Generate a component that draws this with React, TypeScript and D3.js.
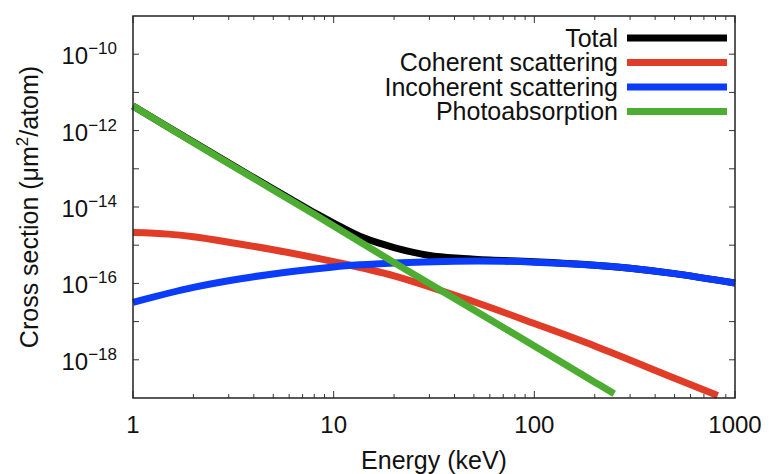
import React, { useEffect, useRef } from "react";
import * as d3 from "d3";

// energies (keV) and cross sections (um^2/atom)
const totalE = [1, 2, 5, 8, 10, 14, 20, 30, 44, 60, 100, 200, 300, 500, 1000];
const totalV = [4.4e-12, 5.0e-13, 2.95e-14, 7.1e-15, 3.8e-15, 1.58e-15, 8.7e-16, 5.4e-16, 4.5e-16, 4.1e-16, 3.7e-16, 3.0e-16, 2.5e-16, 1.8e-16, 1.02e-16];

const coherentE = [1, 1.5, 2, 3, 5, 10, 20, 50, 100, 200, 500, 820];
const coherentV = [2.14e-15, 1.95e-15, 1.66e-15, 1.2e-15, 7.6e-16, 3.7e-16, 1.58e-16, 3.3e-17, 8.9e-18, 2.3e-18, 3.3e-19, 1.17e-19];

const incoherentE = [1, 2, 4, 10, 20, 40, 70, 100, 200, 300, 500, 1000];
const incoherentV = [3.2e-17, 7.9e-17, 1.5e-16, 2.7e-16, 3.4e-16, 3.8e-16, 3.8e-16, 3.6e-16, 3.0e-16, 2.5e-16, 1.8e-16, 1.02e-16];

const photoE = [1, 2, 5, 10, 20, 50, 100, 200, 250];
const photoV = [4.4e-12, 4.9e-13, 2.8e-14, 3.2e-15, 3.5e-16, 2.0e-17, 2.3e-18, 2.6e-19, 1.3e-19];

const seriesNames = ["Total", "Coherent scattering", "Incoherent scattering", "Photoabsorption"];
const seriesColors = ["#000000", "#e03c28", "#0a3cfa", "#4cad32"];

const xTickValues = [1, 10, 100, 1000];
const yLabelExps = [-18, -16, -14, -12, -10];

const App: React.FC = () => {
  const ref = useRef<SVGSVGElement | null>(null);

  useEffect(() => {
    if (!ref.current) return;
    const width = 769;
    const height = 474;
    const left = 133, right = 735, top = 16, bottom = 398;
    const font = "'Liberation Sans', Arial, Helvetica, sans-serif";

    const svg = d3.select(ref.current);
    svg.selectAll("*").remove();
    svg.attr("width", width).attr("height", height);

    const x = d3.scaleLog().domain([1, 1000]).range([left, right]);
    const y = d3.scaleLog().domain([1e-19, 1e-9]).range([bottom, top]);

    const g = svg.append("g");

    // ticks (inside, mirrored)
    const tickColor = "#333";
    const xMinor: number[] = [];
    for (let dec = 1; dec < 1000; dec *= 10) {
      for (let k = 2; k <= 9; k++) xMinor.push(dec * k);
    }
    const drawX = (v: number, len: number) => {
      g.append("line").attr("x1", x(v)).attr("x2", x(v)).attr("y1", bottom).attr("y2", bottom - len)
        .attr("stroke", tickColor).attr("stroke-width", 1);
      g.append("line").attr("x1", x(v)).attr("x2", x(v)).attr("y1", top).attr("y2", top + len)
        .attr("stroke", tickColor).attr("stroke-width", 1);
    };
    xTickValues.forEach(v => drawX(v, 7));
    xMinor.forEach(v => drawX(v, 4));

    for (let e = -18; e <= -10; e++) {
      const yy = y(Math.pow(10, e));
      g.append("line").attr("x1", left).attr("x2", left + 6).attr("y1", yy).attr("y2", yy)
        .attr("stroke", tickColor).attr("stroke-width", 1);
      g.append("line").attr("x1", right).attr("x2", right - 6).attr("y1", yy).attr("y2", yy)
        .attr("stroke", tickColor).attr("stroke-width", 1);
    }

    // curves
    const makeLine = d3.line<[number, number]>()
      .x(d => x(d[0]))
      .y(d => y(d[1]))
      .curve(d3.curveCatmullRom.alpha(0.5));

    const series: [number[], number[]][] = [
      [totalE, totalV],
      [coherentE, coherentV],
      [incoherentE, incoherentV],
      [photoE, photoV],
    ];
    series.forEach(([es, vs], i) => {
      const pts = es.map((e, j) => [e, vs[j]] as [number, number]);
      g.append("path")
        .attr("d", makeLine(pts) || "")
        .attr("fill", "none")
        .attr("stroke", seriesColors[i])
        .attr("stroke-width", 7)
        .attr("stroke-linecap", "butt");
    });

    // frame
    g.append("rect").attr("x", left).attr("y", top).attr("width", right - left).attr("height", bottom - top)
      .attr("fill", "none").attr("stroke", "#222").attr("stroke-width", 1.5);

    // x tick labels
    xTickValues.forEach(v => {
      g.append("text").attr("x", x(v)).attr("y", 433)
        .attr("text-anchor", "middle").attr("font-family", font).attr("font-size", 24)
        .attr("fill", "#111").text(String(v));
    });

    // y tick labels
    yLabelExps.forEach(e => {
      const t = g.append("text").attr("x", 117).attr("y", y(Math.pow(10, e)) + 10)
        .attr("text-anchor", "end").attr("font-family", font).attr("font-size", 24).attr("fill", "#111");
      t.append("tspan").text("10");
      t.append("tspan").attr("dy", -10).attr("font-size", 17).text("\u2212" + Math.abs(e));
    });

    // axis titles
    g.append("text").attr("x", (left + right) / 2).attr("y", 469)
      .attr("text-anchor", "middle").attr("font-family", font).attr("font-size", 25).attr("fill", "#111")
      .text("Energy (keV)");

    const yt = g.append("text")
      .attr("transform", `translate(38,${(top + bottom) / 2}) rotate(-90)`)
      .attr("text-anchor", "middle").attr("font-family", font).attr("font-size", 25).attr("fill", "#111");
    yt.append("tspan").text("Cross section (\u03bcm");
    yt.append("tspan").attr("dy", -10).attr("font-size", 17).text("2");
    yt.append("tspan").attr("dy", 10).text("/atom)");

    // legend
    seriesNames.forEach((name, i) => {
      const ly = 38 + i * 24.5;
      g.append("text").attr("x", 618).attr("y", ly + 8.5)
        .attr("text-anchor", "end").attr("font-family", font).attr("font-size", 25).attr("fill", "#111")
        .text(name);
      g.append("line").attr("x1", 627).attr("x2", 727).attr("y1", ly).attr("y2", ly)
        .attr("stroke", seriesColors[i]).attr("stroke-width", 7);
    });
  }, []);

  return (
    <div style={{ position: "absolute", left: 0, top: 0, background: "#fff" }}>
      <svg ref={ref} />
    </div>
  );
};

export default App;
